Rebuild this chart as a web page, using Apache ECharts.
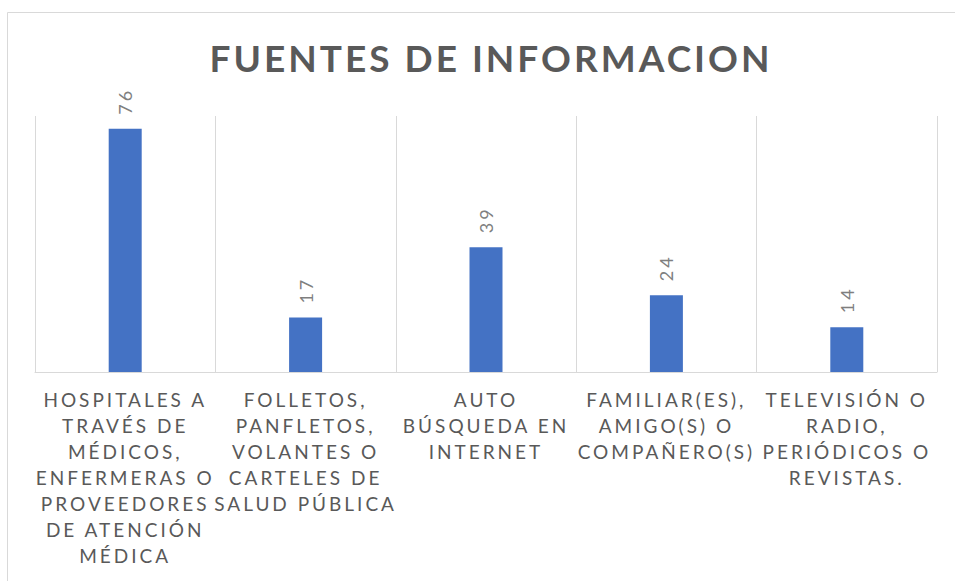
<!DOCTYPE html>
<html>
<head>
<meta charset="utf-8">
<script src="https://cdn.jsdelivr.net/npm/echarts@6/dist/echarts.min.js"></script>
<style>
  html, body { margin: 0; padding: 0; background: #fff; }
  #chart { width: 955px; height: 581px; }
  #chart text { letter-spacing: 3px; }
</style>
</head>
<body>
<div id="chart"></div>
<script>
// categorias (con los saltos de linea del grafico original)
var categorias = [
  'HOSPITALES A\nTRAVÉS DE\nMÉDICOS,\nENFERMERAS O\nPROVEEDORES\nDE ATENCIÓN\nMÉDICA',
  'FOLLETOS,\nPANFLETOS,\nVOLANTES O\nCARTELES DE\nSALUD PÚBLICA',
  'AUTO\nBÚSQUEDA EN\nINTERNET',
  'FAMILIAR(ES),\nAMIGO(S) O\nCOMPAÑERO(S)',
  'TELEVISIÓN O\nRADIO,\nPERIÓDICOS O\nREVISTAS.'
]
var valores = [76, 17, 39, 24, 14]

var chart = echarts.init(document.getElementById('chart'), null, { renderer: 'svg' })
var option = {
  backgroundColor: '#fff',
  animation: false,
  title: {
    text: 'FUENTES DE INFORMACION',
    left: 486,
    textAlign: 'center',
    top: 34,
    textStyle: {
      fontFamily: 'Lato',
      fontWeight: 'bold',
      fontSize: 37,
      color: '#595959'
    }
  },
  graphic: [
    {
      type: 'rect',
      left: 5,
      top: 10,
      shape: { width: 1000, height: 1000 },
      style: { fill: 'none', stroke: '#d9d9d9', lineWidth: 1 },
      silent: true
    }
  ],
  grid: {
    left: 35,
    right: 18,
    top: 116,
    bottom: 209
  },
  xAxis: {
    type: 'category',
    data: categorias,
    axisLine: { lineStyle: { color: '#d9d9d9', width: 1 } },
    axisTick: { show: false },
    splitLine: { show: true, lineStyle: { color: '#d9d9d9', width: 1 } },
    axisLabel: {
      interval: 0,
      margin: 14,
      fontFamily: 'Lato',
      fontSize: 19,
      lineHeight: 26,
      color: '#595959'
    }
  },
  yAxis: {
    type: 'value',
    min: 0,
    max: 80,
    show: false,
    splitLine: { show: false }
  },
  series: [
    {
      type: 'bar',
      data: valores,
      barWidth: 33,
      itemStyle: { color: '#4472c4' },
      label: {
        show: true,
        position: 'top',
        rotate: 90,
        align: 'left',
        verticalAlign: 'middle',
        distance: 14,
        fontFamily: 'Lato',
        fontSize: 18,
        color: '#7f7f7f'
      }
    }
  ]
}
chart.setOption(option)
</script>
</body>
</html>
